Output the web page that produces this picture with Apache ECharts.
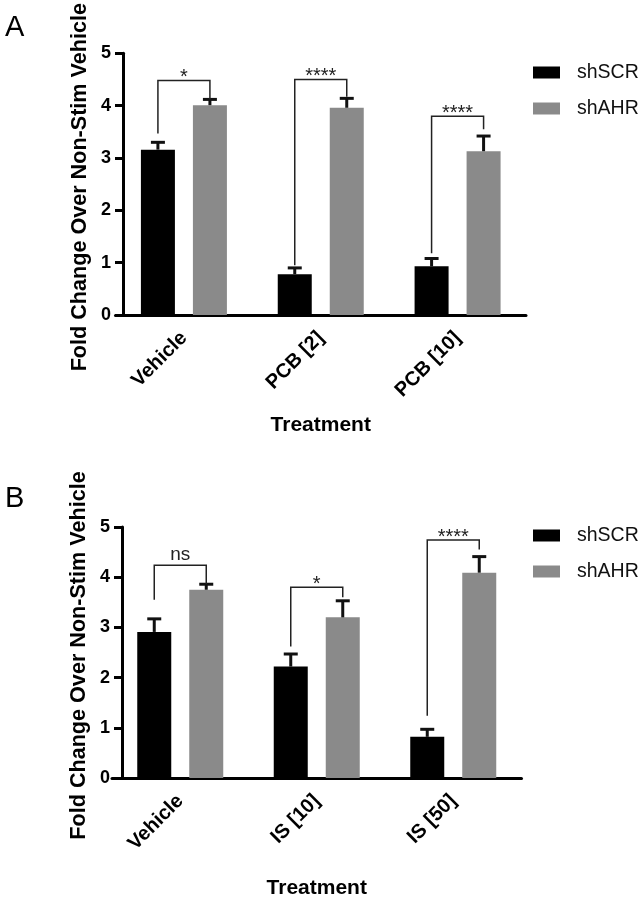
<!DOCTYPE html>
<html>
<head>
<meta charset="utf-8">
<script src="https://cdn.jsdelivr.net/npm/echarts@6/dist/echarts.min.js"></script>
<style>
html,body{margin:0;padding:0;background:#fff;}
#c{width:644px;height:900px;}
</style>
</head>
<body>
<div id="c"></div>
<script>
// ---- data ----
var seriesNames = ['shSCR', 'shAHR'];
var yTicks = [0, 1, 2, 3, 4, 5];

var catsA = ['Vehicle', 'PCB [2]', 'PCB [10]'];
var scrA = [3.16, 0.78, 0.93];
var scrErrA = [0.14, 0.12, 0.15];
var ahrA = [4.01, 3.96, 3.13];
var ahrErrA = [0.11, 0.18, 0.29];
var sigA = ['*', '****', '****'];
var bracketA = [4.48, 4.50, 3.80];
var leftFootA = [3.47, 0.95, 1.18];
var rightFootA = [4.12, 4.17, 3.55];

var catsB = ['Vehicle', 'IS [10]', 'IS [50]'];
var scrB = [2.91, 2.22, 0.82];
var scrErrB = [0.26, 0.25, 0.15];
var ahrB = [3.75, 3.20, 4.09];
var ahrErrB = [0.11, 0.33, 0.32];
var sigB = ['ns', '*', '****'];
var bracketB = [4.24, 3.80, 4.74];
var leftFootB = [3.55, 2.62, 1.24];
var rightFootB = [3.86, 3.60, 4.55];

// ---- styles ----
var FONT = '"Liberation Sans", Arial, sans-serif';
var BAR_W = 34;
var BAR_GAP = 18;
var HALF = (BAR_W + BAR_GAP) / 2;
var BLACK = '#000000';
var GRAY = '#8a8a8a';

var chart = echarts.init(document.getElementById('c'));

function errData(vals, errs) {
  return vals.map(function (v, i) { return [i, v, errs[i]]; });
}
function bracketData(level, lf, rf) {
  return level.map(function (v, i) { return [i, v, lf[i], rf[i]]; });
}

function errSeries(name, vals, errs, sign, idx) {
  return {
    type: 'custom',
    name: name + ' err',
    xAxisIndex: idx, yAxisIndex: idx,
    z: 5,
    silent: true,
    data: errData(vals, errs),
    renderItem: function (params, api) {
      var i = api.value(0), v = api.value(1), e = api.value(2);
      var p0 = api.coord([i, v]);
      var p1 = api.coord([i, v + e]);
      var x = p0[0] + sign * HALF;
      return {
        type: 'group',
        children: [
          { type: 'line', shape: { x1: x, y1: p0[1], x2: x, y2: p1[1] }, style: { stroke: '#111', lineWidth: 3 } },
          { type: 'line', shape: { x1: x - 7, y1: p1[1], x2: x + 7, y2: p1[1] }, style: { stroke: '#111', lineWidth: 3 } }
        ]
      };
    }
  };
}

function bracketSeries(level, lf, rf, sig, idx) {
  return {
    type: 'custom',
    name: 'sig' + idx,
    xAxisIndex: idx, yAxisIndex: idx,
    z: 6,
    silent: true,
    data: bracketData(level, lf, rf),
    renderItem: function (params, api) {
      var i = api.value(0);
      var top = api.coord([i, api.value(1)]);
      var l = api.coord([i, api.value(2)]);
      var r = api.coord([i, api.value(3)]);
      var xl = top[0] - HALF, xr = top[0] + HALF;
      var label = sig[params.dataIndex];
      var isNs = label === 'ns';
      return {
        type: 'group',
        children: [
          { type: 'polyline', shape: { points: [[xl, l[1]], [xl, top[1]], [xr, top[1]], [xr, r[1]]] },
            style: { stroke: '#222', lineWidth: 1.5, fill: null } },
          { type: 'text', x: top[0], y: isNs ? top[1] - 1 : top[1] - 3,
            style: { text: label, fill: '#222', font: (isNs ? '19px ' : '20px ') + FONT, align: 'center',
                     verticalAlign: isNs ? 'bottom' : 'middle' } }
        ]
      };
    }
  };
}

function xAxisCfg(cats, idx) {
  return {
    type: 'category', gridIndex: idx, data: cats,
    axisLine: { lineStyle: { color: '#000', width: 3 } },
    axisTick: { alignWithLabel: true, length: 8, lineStyle: { color: '#000', width: 3 } },
    axisLabel: { rotate: 45, margin: 20, color: '#000', fontWeight: 'bold', fontSize: 20, fontFamily: FONT, interval: 0 },
    name: 'Treatment', nameLocation: 'middle', nameGap: 100, nameMoveOverlap: false,
    nameTextStyle: { color: '#000', fontWeight: 'bold', fontSize: 21, fontFamily: FONT },
    splitLine: { show: false }
  };
}
function yAxisCfg(idx, off) {
  return {
    type: 'value', gridIndex: idx, min: yTicks[0], max: yTicks[yTicks.length - 1], interval: 1,
    offset: off,
    axisLine: { show: true, lineStyle: { color: '#000', width: 3 } },
    axisTick: { show: true, length: 8, lineStyle: { color: '#000', width: 3 } },
    axisLabel: { color: '#000', fontWeight: 'bold', fontSize: 18, fontFamily: FONT, margin: 12 },
    splitLine: { show: false },
    name: 'Fold Change Over Non-Stim Vehicle', nameLocation: 'middle', nameRotate: 90, nameGap: 32,
    nameMoveOverlap: false,
    nameTextStyle: { color: '#000', fontWeight: 'bold', fontSize: 21.6, fontFamily: FONT, padding: [0, 6, 0, 0] }
  };
}
function legendCfg(top) {
  return {
    orient: 'vertical', left: 528, top: top,
    data: seriesNames,
    icon: 'rect', itemWidth: 27, itemHeight: 12, itemGap: 15,
    selectedMode: false,
    textStyle: { color: '#111', fontSize: 19.5, lineHeight: 21, fontFamily: FONT, padding: [0, 0, 0, 12] }
  };
}

var option = {
  animation: false,
  backgroundColor: '#fff',
  color: [BLACK, GRAY],
  title: [
    { text: 'A', left: 0, top: 8, textStyle: { fontSize: 29, fontWeight: 'normal', color: '#000', fontFamily: FONT } },
    { text: 'B', left: 0, top: 479, textStyle: { fontSize: 29, fontWeight: 'normal', color: '#000', fontFamily: FONT } }
  ],
  legend: [legendCfg(57), legendCfg(520)],
  grid: [
    { left: 115.5, width: 410.5, top: 53, height: 262 },
    { left: 112, width: 409.5, top: 527, height: 263 }
  ],
  xAxis: [xAxisCfg(catsA, 0), xAxisCfg(catsB, 1)],
  yAxis: [yAxisCfg(0, -7.5), yAxisCfg(1, -10)],
  series: [
    { type: 'bar', name: seriesNames[0], xAxisIndex: 0, yAxisIndex: 0, data: scrA, barWidth: BAR_W, barGap: (BAR_GAP / BAR_W * 100) + '%', itemStyle: { color: BLACK } },
    { type: 'bar', name: seriesNames[1], xAxisIndex: 0, yAxisIndex: 0, data: ahrA, barWidth: BAR_W, barGap: (BAR_GAP / BAR_W * 100) + '%', itemStyle: { color: GRAY } },
    { type: 'bar', name: seriesNames[0], xAxisIndex: 1, yAxisIndex: 1, data: scrB, barWidth: BAR_W, barGap: (BAR_GAP / BAR_W * 100) + '%', itemStyle: { color: BLACK } },
    { type: 'bar', name: seriesNames[1], xAxisIndex: 1, yAxisIndex: 1, data: ahrB, barWidth: BAR_W, barGap: (BAR_GAP / BAR_W * 100) + '%', itemStyle: { color: GRAY } },
    errSeries('shSCR A', scrA, scrErrA, -1, 0),
    errSeries('shAHR A', ahrA, ahrErrA, 1, 0),
    errSeries('shSCR B', scrB, scrErrB, -1, 1),
    errSeries('shAHR B', ahrB, ahrErrB, 1, 1),
    bracketSeries(bracketA, leftFootA, rightFootA, sigA, 0),
    bracketSeries(bracketB, leftFootB, rightFootB, sigB, 1)
  ]
};
chart.setOption(option);
</script>
</body>
</html>
